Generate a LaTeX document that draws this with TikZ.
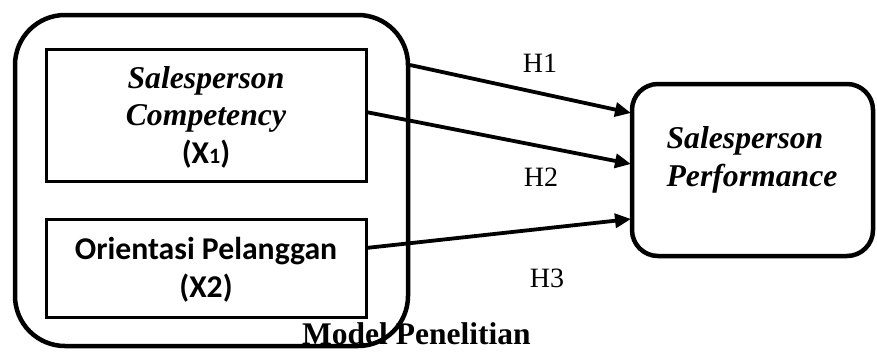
\documentclass[tikz,border=0pt]{standalone}
\usepackage{fontspec}
\setmainfont{Liberation Serif}
\newfontfamily\carlito{Carlito}
\usetikzlibrary{arrows.meta}
\tikzset{
  outerbox/.style={draw, line width=4.5pt, rounded corners=50pt},
  varbox/.style={draw, line width=3pt, inner sep=0pt},
  perfbox/.style={draw, line width=4.5pt, rounded corners=26pt},
  arr/.style={line width=3.8pt, -{Triangle[length=16pt,width=14pt]}},
  hlabel/.style={font=\fontsize{28}{30}\selectfont, inner sep=0pt},
  bigtxt/.style={font=\fontsize{31.7}{37.5}\selectfont, align=center, inner sep=0pt},
}
\begin{document}
\begin{tikzpicture}[x=1pt,y=-1pt]
\useasboundingbox (0,0) rectangle (877,351);
% outer box
\draw[outerbox] (15,15) rectangle (408,346);
% boxes
\draw[varbox] (46,49) rectangle (366,181);
\draw[varbox] (46,219) rectangle (366,317);
\draw[perfbox] (632,84) rectangle (873,256);
\node (b1) [bigtxt] at (206,117) {\textbf{\textit{Salesperson}}\\\textbf{\textit{Competency}}\\{\carlito\bfseries (X{\fontsize{22}{22}\selectfont 1})}};
\node (b2) [bigtxt] at (206,270) {\carlito\bfseries Orientasi Pelanggan\\\carlito\bfseries (X2)};
\node (perf) [bigtxt, align=left] at (752,160) {\textbf{\textit{Salesperson}}\\\textbf{\textit{Performance}}};
% coordinates
\coordinate (s1) at (410,65);
\coordinate (s2) at (366,112);
\coordinate (s3) at (366,248);
\coordinate (e1) at (631,113);
\coordinate (e2) at (631,164);
\coordinate (e3) at (631,219);
\draw[arr] (s1) -- (e1);
\draw[arr] (s2) -- (e2);
\draw[arr] (s3) -- (e3);
\node (h1) [hlabel] at (540,63) {H1};
\node (h2) [hlabel] at (541,177) {H2};
\node (h3) [hlabel] at (547,278) {H3};
\node (title) [inner sep=0pt, anchor=base west, font=\fontsize{31.5}{33}\selectfont\bfseries] at (302,344) {Model Penelitian};
\end{tikzpicture}
\end{document}
